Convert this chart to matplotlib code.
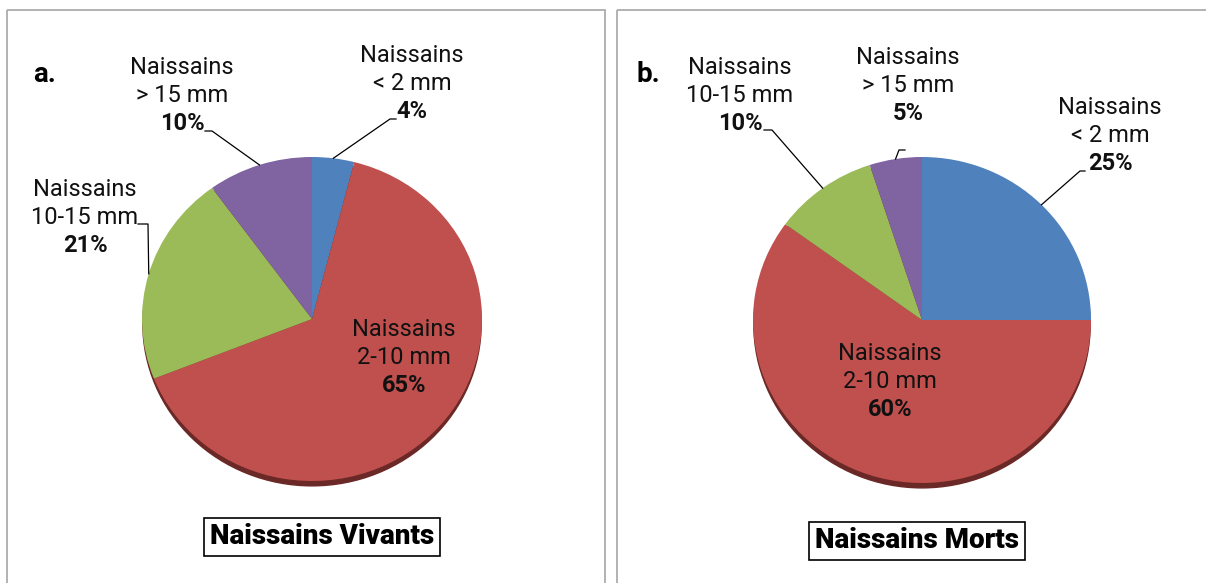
import matplotlib.pyplot as plt
from matplotlib.patches import Rectangle, Ellipse
import numpy as np

plt.rcParams['font.family'] = ['Roboto', 'DejaVu Sans']

# data
categories = ['Naissains\n< 2 mm', 'Naissains\n2-10 mm', 'Naissains\n10-15 mm', 'Naissains\n> 15 mm']
vivants = [4, 65, 21, 10]
morts = [25, 60, 10, 5]
colors = ['#4F81BD', '#C0504D', '#9BBB59', '#8064A2']

W, H = 1206, 583
fig = plt.figure(figsize=(W / 100, H / 100), dpi=100)

# overlay axes in pixel coordinates (y downwards), drawn above the pies
bg = fig.add_axes([0, 0, 1, 1])
bg.set_xlim(0, W)
bg.set_ylim(H, 0)
bg.axis('off')
bg.set_zorder(5)
bg.patch.set_alpha(0)

# panel frames
bg.add_patch(Rectangle((7, 10), 598, 590, fill=False, ec='#a6a6a6', lw=1.2))
bg.add_patch(Rectangle((617, 10), 600, 590, fill=False, ec='#a6a6a6', lw=1.2))


def pie_axes(left, top, w, h):
    return fig.add_axes([left / W, 1 - (top + h) / H, w / W, h / H])


def draw_pie(ax, vals):
    ax.add_patch(Ellipse((0, -0.03), 1.99, 2, color='#6a2826', zorder=0, clip_on=False))
    ax.pie(vals, colors=colors, startangle=90, counterclock=False, radius=1,
           wedgeprops=dict(linewidth=0, clip_on=False), normalize=True)
    ax.set_aspect('auto')
    ax.set_xlim(-1, 1)
    ax.set_ylim(-1, 1)
    ax.axis('off')


def edge_point(ax, vals, i):
    tot = sum(vals)
    mid = sum(vals[:i]) + vals[i] / 2
    ang = np.deg2rad(90 - mid / tot * 360)
    p = ax.transData.transform((np.cos(ang), np.sin(ang)))
    return bg.transData.inverted().transform(p)


def label(x, y, cat, val, step=28):
    lines = cat.split('\n')
    for k, t in enumerate(lines):
        bg.text(x, y + k * step, t, ha='center', va='center', fontsize=17, color='#111111')
    bg.text(x, y + len(lines) * step, f'{val}%', ha='center', va='center',
            fontsize=17, fontweight='bold', color='#111111')


def leader(ax, vals, i, pts):
    ex, ey = edge_point(ax, vals, i)
    xs = [p[0] for p in pts] + [ex]
    ys = [p[1] for p in pts] + [ey]
    bg.plot(xs, ys, color='black', lw=0.9)


# panel a
axa = pie_axes(142, 157, 340, 324)
draw_pie(axa, vivants)
bg.text(33, 75, 'a.', fontsize=20, fontweight='bold', va='center')
label(412, 55, categories[0], vivants[0])
label(404, 329, categories[1], vivants[1])
label(85, 190, categories[2], vivants[2])
label(182, 68, categories[3], vivants[3])
leader(axa, vivants, 0, [(396, 119), (390, 119)])
leader(axa, vivants, 3, [(205, 131), (212, 131)])
leader(axa, vivants, 2, [(138, 224), (148, 224)])

# panel b
axb = pie_axes(753, 157, 338, 326)
draw_pie(axb, morts)
bg.text(637, 75, 'b.', fontsize=20, fontweight='bold', va='center')
label(1110, 107, categories[0], morts[0])
label(890, 354, categories[1], morts[1])
label(740, 68, categories[2], morts[2])
label(908, 58, categories[3], morts[3])
leader(axb, morts, 0, [(1085, 171), (1080, 171)])
leader(axb, morts, 2, [(764, 130), (772, 130)])
leader(axb, morts, 3, [(905, 150), (899, 150)])

# titles
box = dict(boxstyle='square,pad=0.2', fc='white', ec='black', lw=1.2)
bg.text(322, 537, 'Naissains Vivants', ha='center', va='center', fontsize=20,
        fontweight='heavy', bbox=box)
bg.text(917, 541, 'Naissains Morts', ha='center', va='center', fontsize=20,
        fontweight='heavy', bbox=box)

fig.savefig('out.png', dpi=100)
